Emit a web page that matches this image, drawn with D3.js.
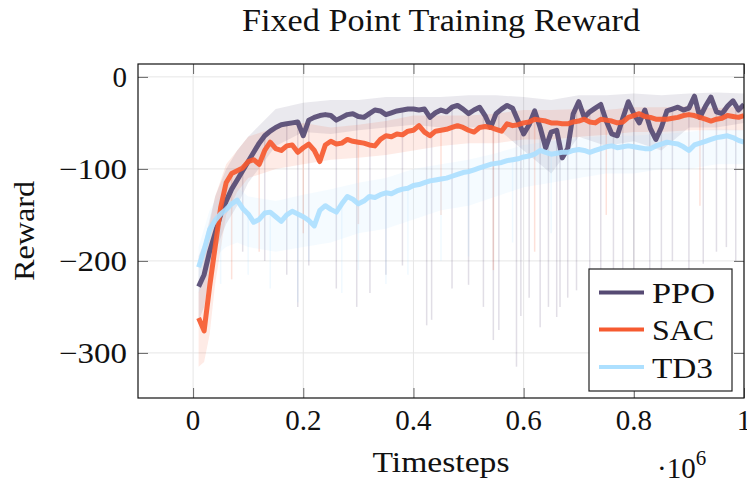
<!DOCTYPE html>
<html>
<head>
<meta charset="utf-8">
<script src="https://cdn.jsdelivr.net/npm/d3@7"></script>
<style>
  html, body { margin: 0; padding: 0; background: #fff; }
  svg text { font-family: "Liberation Serif", "Times New Roman", "DejaVu Serif", serif; fill: #111; }
</style>
</head>
<body>
<svg id="chart" width="747" height="483"></svg>
<script>
// Timesteps (in millions) for the smoothed mean curves
const steps = d3.range(1, 101).map(i => i / 100);

const ppoMean = [-228,-215,-190,-170,-150,-135,-122,-112,-102,-92,
  -82,-72,-64,-59,-55,-52,-51,-50,-49,-64,
  -47,-44,-42,-41,-42,-47,-44,-41,-40,-43,
  -44,-40,-36,-37,-41,-39,-37,-36,-35,-35,
  -36,-35,-44,-39,-36,-38,-33,-31,-35,-40,
  -36,-33,-42,-55,-40,-35,-31,-34,-48,-62,
  -52,-37,-55,-77,-60,-58,-88,-78,-40,-27,
  -44,-38,-34,-30,-48,-62,-64,-45,-27,-40,
  -50,-36,-56,-68,-55,-37,-35,-33,-36,-34,
  -21,-44,-32,-22,-38,-40,-32,-26,-36,-30];

const sacMean = [-262,-276,-228,-185,-142,-115,-105,-102,-99,-92,
  -90,-95,-80,-71,-78,-80,-75,-74,-82,-77,
  -73,-80,-92,-74,-70,-73,-72,-68,-70,-71,
  -72,-74,-75,-68,-64,-65,-62,-63,-59,-58,
  -53,-60,-64,-59,-58,-57,-55,-53,-55,-58,
  -60,-55,-54,-55,-57,-59,-51,-53,-52,-50,
  -49,-46,-47,-48,-50,-50,-51,-51,-49,-48,
  -46,-49,-50,-46,-47,-48,-50,-49,-44,-42,
  -40,-43,-44,-46,-46,-46,-45,-44,-42,-41,
  -42,-44,-46,-48,-46,-45,-42,-43,-44,-42];

const td3Mean = [-207,-188,-166,-156,-149,-144,-138,-134,-143,-149,
  -158,-155,-148,-147,-152,-157,-150,-146,-149,-152,
  -156,-162,-145,-140,-144,-147,-138,-130,-133,-138,
  -135,-130,-131,-128,-126,-127,-124,-122,-121,-118,
  -117,-115,-113,-112,-111,-110,-108,-106,-104,-103,
  -101,-99,-97,-95,-94,-93,-91,-90,-89,-87,
  -86,-84,-80,-82,-84,-83,-82,-82,-80,-79,
  -80,-82,-80,-78,-76,-75,-77,-76,-75,-76,
  -77,-78,-78,-75,-73,-71,-72,-73,-76,-80,
  -74,-72,-70,-68,-66,-65,-64,-66,-69,-71];

// Min/max envelope across runs, sampled more coarsely
const bandSteps = [0.01,0.02,0.03,0.04,0.06,0.08,0.10,0.15,0.20,0.25,0.30,0.35,0.40,
  0.45,0.50,0.55,0.60,0.65,0.70,0.75,0.80,0.85,0.90,0.95,1.00];
const ppoUpper = [-195,-180,-155,-130,-100,-80,-65,-35,-28,-25,-25,-22,-22,-22,-20,-20,-22,-25,-20,-20,-18,-20,-18,-17,-18];
const ppoLower = [-265,-250,-215,-190,-160,-140,-115,-75,-60,-62,-58,-55,-52,-55,-55,-55,-80,-105,-65,-75,-70,-80,-55,-55,-50];
const sacUpper = [-235,-200,-160,-130,-95,-80,-65,-55,-50,-55,-52,-48,-42,-42,-42,-40,-36,-36,-35,-36,-33,-33,-32,-34,-32];
const sacLower = [-315,-310,-280,-225,-150,-125,-110,-100,-95,-90,-88,-85,-80,-75,-72,-72,-68,-68,-65,-63,-60,-60,-58,-58,-58];
const td3Upper = [-185,-165,-145,-135,-125,-120,-130,-135,-128,-122,-115,-110,-100,-95,-90,-83,-74,-70,-67,-64,-64,-62,-60,-56,-58];
const td3Lower = [-235,-225,-210,-195,-185,-180,-185,-190,-185,-180,-170,-165,-155,-145,-140,-130,-120,-115,-110,-105,-105,-100,-100,-95,-95];

// Isolated worst-episode drops [timestep, reward]
const ppoDrops = [[0.09,-190],[0.13,-200],[0.17,-215],[0.19,-250],[0.21,-205],[0.26,-230],[0.297,-250],
  [0.321,-235],[0.35,-215],[0.38,-205],[0.424,-270],[0.433,-264],[0.47,-230],[0.5,-226],[0.527,-250],
  [0.545,-286],[0.555,-275],[0.587,-315],[0.595,-260],[0.61,-240],[0.63,-272],[0.645,-250],[0.66,-261],
  [0.666,-250],[0.68,-240],[0.696,-232],[0.72,-260],[0.74,-255],[0.763,-214],[0.78,-210],[0.80,-245],
  [0.829,-210],[0.85,-240],[0.87,-200],[0.9,-230],[0.926,-203],[0.95,-190],[0.968,-185],[0.985,-200]];
const sacDrops = [[0.07,-220],[0.12,-190],[0.2,-170],[0.3,-160],[0.45,-150],[0.545,-210],[0.62,-190],[0.75,-150],[0.92,-140]];
const td3Drops = [[0.05,-225],[0.1,-215],[0.14,-230],[0.19,-245],[0.21,-200],[0.27,-235],[0.3,-210],
  [0.35,-225],[0.39,-215],[0.45,-200],[0.5,-195],[0.58,-180],[0.65,-170]];

const seriesNames = ["PPO", "SAC", "TD3"];
const colors = ["#564a73", "#f65a30", "#ade0ff"];
const xTicks = [0, 0.2, 0.4, 0.6, 0.8, 1];
const yTicks = [0, -100, -200, -300];

const svg = d3.select("#chart");
const plot = { left: 138, right: 744, top: 64, bottom: 398 };

const x = d3.scaleLinear().domain([-0.1, 1.0]).range([plot.left, plot.right]);
const y = d3.scaleLinear().domain([-349, 14]).range([plot.bottom, plot.top]);

svg.append("defs").append("clipPath").attr("id", "plotclip")
  .append("rect").attr("x", plot.left).attr("y", plot.top)
  .attr("width", plot.right - plot.left).attr("height", plot.bottom - plot.top);

// Grid
const grid = svg.append("g");
grid.selectAll("line.gx").data(xTicks).join("line")
  .attr("x1", d => x(d)).attr("x2", d => x(d))
  .attr("y1", plot.top).attr("y2", plot.bottom)
  .attr("stroke", "#e6e6e6").attr("stroke-width", 1);
grid.selectAll("line.gy").data(yTicks).join("line")
  .attr("y1", d => y(d)).attr("y2", d => y(d))
  .attr("x1", plot.left).attr("x2", plot.right)
  .attr("stroke", "#e6e6e6").attr("stroke-width", 1);

const series = [
  { mean: ppoMean, upper: ppoUpper, lower: ppoLower, drops: ppoDrops },
  { mean: sacMean, upper: sacUpper, lower: sacLower, drops: sacDrops },
  { mean: td3Mean, upper: td3Upper, lower: td3Lower, drops: td3Drops }
];

const data = svg.append("g").attr("clip-path", "url(#plotclip)");

const area = d3.area()
  .x(d => x(d.t)).y0(d => y(d.lo)).y1(d => y(d.hi));

// Envelopes and drops
series.forEach((s, i) => {
  const pts = bandSteps.map((t, k) => ({ t, lo: s.lower[k], hi: s.upper[k] }));
  data.append("path").datum(pts)
    .attr("d", area)
    .attr("fill", colors[i]).attr("fill-opacity", 0.12);
  const meanAt = t => s.mean[Math.max(0, Math.min(99, Math.round(t * 100) - 1))];
  data.append("g").selectAll("line").data(s.drops).join("line")
    .attr("x1", d => x(d[0])).attr("x2", d => x(d[0]))
    .attr("y1", d => y(meanAt(d[0]))).attr("y2", d => y(d[1]))
    .attr("stroke", colors[i]).attr("stroke-opacity", 0.18).attr("stroke-width", 1.5);
});

// Mean curves
const line = d3.line().x((d, k) => x(steps[k])).y(d => y(d));
series.forEach((s, i) => {
  data.append("path").datum(s.mean)
    .attr("d", line)
    .attr("fill", "none")
    .attr("stroke", colors[i])
    .attr("stroke-width", 5)
    .attr("stroke-linejoin", "round")
    .attr("stroke-opacity", 0.92);
});

// Axes frame and inward ticks
const axes = svg.append("g");
const tickLen = 10;
const xAxisB = d3.axisBottom(x).tickValues(xTicks).tickSizeInner(-tickLen).tickSizeOuter(0).tickFormat("");
const xAxisT = d3.axisTop(x).tickValues(xTicks).tickSizeInner(-tickLen).tickSizeOuter(0).tickFormat("");
const yAxisL = d3.axisLeft(y).tickValues(yTicks).tickSizeInner(-tickLen).tickSizeOuter(0).tickFormat("");
const yAxisR = d3.axisRight(y).tickValues(yTicks).tickSizeInner(-tickLen).tickSizeOuter(0).tickFormat("");
[[xAxisB, `translate(0,${plot.bottom})`], [xAxisT, `translate(0,${plot.top})`],
 [yAxisL, `translate(${plot.left},0)`], [yAxisR, `translate(${plot.right},0)`]].forEach(([ax, tr]) => {
  const g = axes.append("g").attr("transform", tr).call(ax);
  g.select(".domain").remove();
  g.selectAll(".tick line").attr("stroke", "#666").attr("stroke-width", 1);
});
axes.append("rect")
  .attr("x", plot.left).attr("y", plot.top)
  .attr("width", plot.right - plot.left).attr("height", plot.bottom - plot.top)
  .attr("fill", "none").attr("stroke", "#111").attr("stroke-width", 1.2);

// Tick labels
const fmtX = d => (d === 0 ? "0" : d === 1 ? "1" : d3.format(".1f")(d));
svg.append("g").selectAll("text").data(xTicks).join("text")
  .attr("x", d => x(d)).attr("y", 430)
  .attr("text-anchor", "middle").attr("font-size", 29)
  .text(fmtX);
svg.append("g").selectAll("text").data(yTicks).join("text")
  .attr("x", 127).attr("y", d => y(d) + 10)
  .attr("text-anchor", "end").attr("font-size", 29)
  .each(function(d) { if (d < 0) d3.select(this).attr("textLength", 68).attr("lengthAdjust", "spacingAndGlyphs"); })
  .text(d => (d < 0 ? "\u2212" + Math.abs(d) : String(d)));

// Title and axis labels
svg.append("text").attr("x", 441).attr("y", 31)
  .attr("text-anchor", "middle").attr("font-size", 31)
  .attr("textLength", 398).attr("lengthAdjust", "spacingAndGlyphs")
  .text("Fixed Point Training Reward");
svg.append("text").attr("x", 441).attr("y", 472)
  .attr("text-anchor", "middle").attr("font-size", 30)
  .attr("textLength", 137).attr("lengthAdjust", "spacingAndGlyphs")
  .text("Timesteps");
svg.append("text")
  .attr("transform", "translate(34,231) rotate(-90)")
  .attr("text-anchor", "middle").attr("font-size", 30)
  .attr("textLength", 100).attr("lengthAdjust", "spacingAndGlyphs")
  .text("Reward");
const sci = svg.append("text").attr("x", 657).attr("y", 478).attr("font-size", 29);
sci.append("tspan").text("\u00B710");
sci.append("tspan").attr("dy", -13).attr("font-size", 21).text("6");

// Legend
const lg = svg.append("g");
lg.append("rect").attr("x", 589).attr("y", 269).attr("width", 143).attr("height", 122)
  .attr("fill", "#fff").attr("stroke", "#222").attr("stroke-width", 1.2);
const legendY = [292.5, 329.5, 367];
const legendWidths = [63, 62, 61];
seriesNames.forEach((name, i) => {
  lg.append("line").attr("x1", 599).attr("x2", 644)
    .attr("y1", legendY[i]).attr("y2", legendY[i])
    .attr("stroke", colors[i]).attr("stroke-width", 4);
  lg.append("text").attr("x", 652).attr("y", legendY[i] + 10.5)
    .attr("font-size", 30)
    .attr("textLength", legendWidths[i]).attr("lengthAdjust", "spacingAndGlyphs")
    .text(name);
});
</script>
</body>
</html>
